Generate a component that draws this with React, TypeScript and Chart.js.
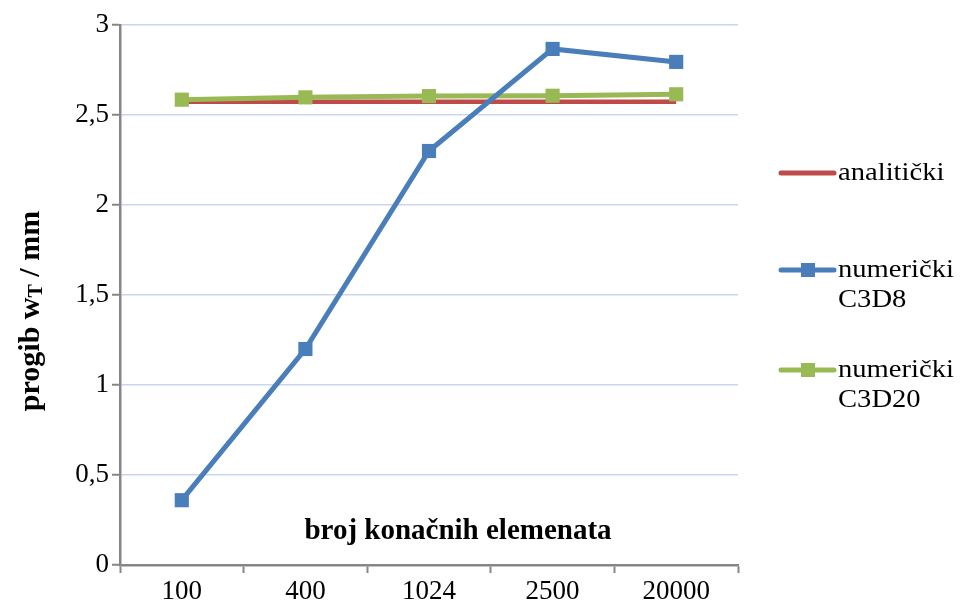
import React, { useEffect, useRef } from "react";
import { Chart, registerables } from "chart.js";

Chart.register(...registerables);

const categories = ["100", "400", "1024", "2500", "20000"];
const analytic = [2.574, 2.574, 2.574, 2.574, 2.574];
const c3d8 = [0.36, 1.2, 2.3, 2.867, 2.795];
const c3d20 = [2.585, 2.598, 2.605, 2.607, 2.615];
const yTicks = [0, 0.5, 1, 1.5, 2, 2.5, 3];

const RED = "#be4b48";
const BLUE = "#4a7ebb";
const GREEN = "#98b954";
const AXIS = "#868686";
const GRID = "#c9d7ee";
const SERIF = "'Liberation Serif', 'Times New Roman', serif";

const legendItems = [
  { lines: ["analitički"], color: RED, marker: false },
  { lines: ["numerički", "C3D8"], color: BLUE, marker: true },
  { lines: ["numerički", "C3D20"], color: GREEN, marker: true },
];

const overlayPlugin = {
  id: "overlay",
  afterDraw(chart: any) {
    const ctx = chart.ctx;
    ctx.save();
    // x-axis title drawn inside plot area
    ctx.font = `bold 29px ${SERIF}`;
    ctx.fillStyle = "#000";
    ctx.textAlign = "center";
    ctx.textBaseline = "middle";
    ctx.fillText("broj konačnih elemenata", 458, 532);

    // y-axis title with subscript
    ctx.save();
    ctx.translate(31, 311);
    ctx.rotate(-Math.PI / 2);
    ctx.textBaseline = "middle";
    ctx.textAlign = "left";
    const mainFont = `bold 30px ${SERIF}`;
    const subFont = `bold 20px ${SERIF}`;
    const p1 = "progib w";
    const p2 = "T";
    const p3 = " / mm";
    ctx.font = mainFont;
    const w1 = ctx.measureText(p1).width;
    const w3 = ctx.measureText(p3).width;
    ctx.font = subFont;
    const w2 = ctx.measureText(p2).width;
    const total = w1 + w2 + w3;
    let x = -total / 2;
    ctx.font = mainFont;
    ctx.fillText(p1, x, 0);
    x += w1;
    ctx.font = subFont;
    ctx.fillText(p2, x, 6);
    x += w2;
    ctx.font = mainFont;
    ctx.fillText(p3, x, 0);
    ctx.restore();

    // legend
    const lx = 781;
    const tops = [173, 270, 370];
    legendItems.forEach((it, i) => {
      const y = tops[i];
      ctx.strokeStyle = it.color;
      ctx.lineWidth = 5;
      ctx.lineCap = "round";
      ctx.beginPath();
      ctx.moveTo(lx, y);
      ctx.lineTo(lx + 53, y);
      ctx.stroke();
      if (it.marker) {
        ctx.fillStyle = it.color;
        ctx.fillRect(lx + 20, y - 7, 14, 14);
      }
      ctx.fillStyle = "#000";
      it.lines.forEach((t, j) => {
        ctx.save();
        ctx.translate(lx + 57, y + j * 30);
        ctx.scale(1.1, 1);
        ctx.font = `26px ${SERIF}`;
        ctx.textAlign = "left";
        ctx.textBaseline = "middle";
        ctx.fillText(t, 0, 0);
        ctx.restore();
      });
    });
    ctx.restore();
  },
};

export default function App() {
  const ref = useRef<HTMLCanvasElement | null>(null);
  useEffect(() => {
    if (!ref.current) return;
    const chart = new Chart(ref.current, {
      type: "line",
      data: {
        labels: categories,
        datasets: [
          {
            label: "analitički",
            data: analytic,
            borderColor: RED,
            backgroundColor: RED,
            borderWidth: 4.5,
            pointRadius: 0,
            order: 3,
          },
          {
            label: "numerički C3D8",
            data: c3d8,
            borderColor: BLUE,
            backgroundColor: BLUE,
            borderWidth: 5,
            pointStyle: "rect",
            pointRadius: 10,
            pointBorderWidth: 0,
            order: 1,
          },
          {
            label: "numerički C3D20",
            data: c3d20,
            borderColor: GREEN,
            backgroundColor: GREEN,
            borderWidth: 5,
            pointStyle: "rect",
            pointRadius: 10,
            pointBorderWidth: 0,
            order: 2,
          },
        ],
      },
      options: {
        animation: false,
        responsive: false,
        layout: { padding: { top: 25, right: 222, bottom: 0, left: 0 } },
        plugins: { legend: { display: false }, tooltip: { enabled: false } },
        scales: {
          x: {
            offset: true,
            afterFit(scale: any) {
              scale.height = 42;
            },
            grid: {
              offset: true,
              drawOnChartArea: false,
              drawTicks: true,
              tickLength: 8,
              tickColor: AXIS,
              tickWidth: 2,
            },
            border: { color: AXIS, width: 2.5 },
            ticks: {
              color: "#000",
              font: { family: SERIF, size: 27 },
              padding: 3,
            },
          },
          y: {
            min: 0,
            max: 3,
            afterFit(scale: any) {
              scale.width = 120;
            },
            afterBuildTicks(scale: any) {
              scale.ticks = yTicks.map((v) => ({ value: v }));
            },
            grid: {
              color: GRID,
              lineWidth: 1.5,
              tickLength: 8,
              tickColor: AXIS,
              tickWidth: 2,
            },
            border: { color: AXIS, width: 2.5 },
            ticks: {
              color: "#000",
              font: { family: SERIF, size: 27 },
              padding: 3,
              callback: (v: any) => String(v).replace(".", ","),
            },
          },
        },
      },
      plugins: [overlayPlugin],
    });
    return () => chart.destroy();
  }, []);
  return (
    <div style={{ position: "fixed", left: 0, top: 0, width: 960, height: 607, background: "#fff" }}>
      <canvas ref={ref} width={960} height={607} style={{ width: 960, height: 607 }} />
    </div>
  );
}
